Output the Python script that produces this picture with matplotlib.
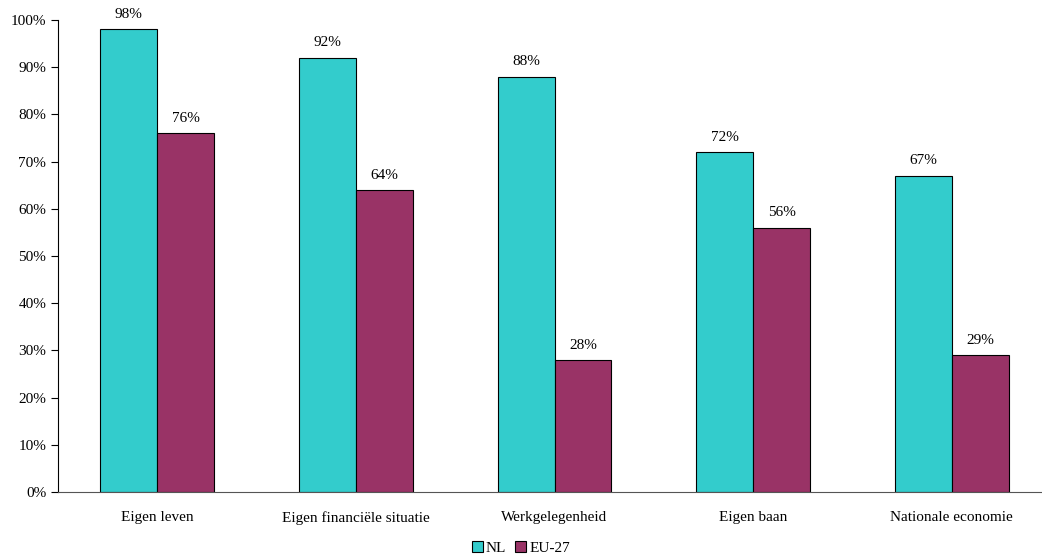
import matplotlib
matplotlib.use("Agg")
import matplotlib.pyplot as plt
import numpy as np
from matplotlib.ticker import FuncFormatter

categories = ["Eigen leven", "Eigen financiële situatie", "Werkgelegenheid", "Eigen baan", "Nationale economie"]
nl = [98, 92, 88, 72, 67]
eu27 = [76, 64, 28, 56, 29]
series_names = ["NL", "EU-27"]

plt.rcParams['font.family'] = ['Liberation Serif', 'DejaVu Serif']
fig = plt.figure(figsize=(10.42, 5.6), dpi=100)
ax = fig.add_axes([58/1042, 68/560, 993/1042, 472/560])

x = np.arange(len(categories))
w = 0.287
b1 = ax.bar(x - w/2, nl, w, color="#33CCCC", edgecolor="black", linewidth=0.8, label=series_names[0])
b2 = ax.bar(x + w/2, eu27, w, color="#993366", edgecolor="black", linewidth=0.8, label=series_names[1])
for bars, vals in ((b1, nl), (b2, eu27)):
    for r, v in zip(bars, vals):
        ax.annotate(f"{v}%", (r.get_x() + r.get_width()/2, v), xytext=(0, 6),
                    textcoords="offset points", ha="center", va="bottom", fontsize=11)

ax.set_xlim(-0.5, len(categories) - 0.5)
ax.set_ylim(0, 100)
ax.set_yticks(range(0, 101, 10))
ax.yaxis.set_major_formatter(FuncFormatter(lambda v, p: f"{int(v)}%"))
ax.set_xticks(x)
ax.set_xticklabels(categories, fontsize=11)
ax.tick_params(axis='x', length=0, pad=14)
ax.tick_params(axis='y', length=5, labelsize=11, direction='out')
for s in ("top", "right"):
    ax.spines[s].set_visible(False)
ax.spines['left'].set_color('black')
ax.spines['bottom'].set_color('#555555')

fig.legend(handles=[b1, b2], labels=series_names, loc="center", bbox_to_anchor=(0.5, 12/560),
           ncol=2, frameon=False, fontsize=11, handlelength=0.7, handleheight=0.7,
           handletextpad=0.2, columnspacing=0.6)

fig.savefig("out.png", dpi=100)
